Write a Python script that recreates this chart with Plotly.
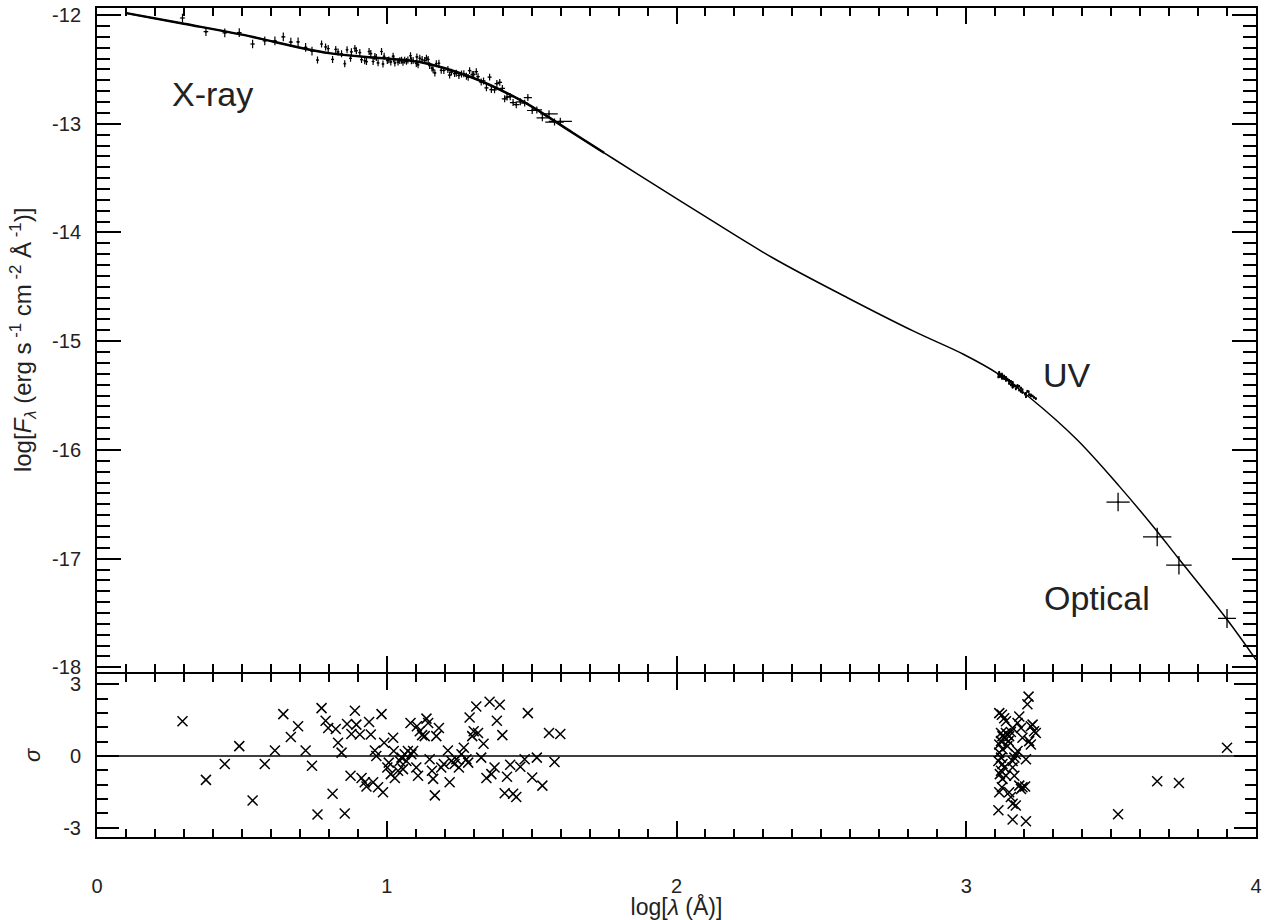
import plotly.graph_objects as go

# ---------------- data ----------------
# model curve knots  (log lambda, log F_lambda)
model_x = [0.097, 0.30, 0.50, 0.80, 1.00, 1.11, 1.29, 1.46, 1.53, 1.64, 1.75, 1.87,
           2.10, 2.33, 2.59, 2.82, 2.99, 3.11, 3.22, 3.38, 3.53, 3.65, 3.73, 3.90, 4.00]
model_y = [-11.98, -12.08, -12.18, -12.35, -12.40, -12.43, -12.57, -12.78, -12.89, -13.08, -13.267, -13.47,
           -13.855, -14.23, -14.60, -14.91, -15.12, -15.30, -15.52, -15.90, -16.34, -16.72, -16.99, -17.56, -17.93]

# X-ray spectrum
xray_x = [0.295, 0.376, 0.441, 0.491, 0.537, 0.579, 0.614, 0.643, 0.669, 0.694,
          0.720, 0.742, 0.761, 0.775, 0.789, 0.798, 0.824, 0.813, 0.832, 0.844,
          0.855, 0.863, 0.875, 0.878, 0.890, 0.895, 0.907, 0.913, 0.924, 0.930,
          0.939, 0.945, 0.953, 0.959, 0.964, 0.970, 0.982, 0.987, 0.991, 1.002,
          1.007, 1.014, 1.022, 1.024, 1.028, 1.039, 1.045, 1.051, 1.056, 1.062,
          1.068, 1.073, 1.082, 1.085, 1.091, 1.102, 1.108, 1.104, 1.114, 1.122,
          1.131, 1.137, 1.143, 1.148, 1.156, 1.166, 1.171, 1.180, 1.160, 1.188,
          1.197, 1.211, 1.217, 1.223, 1.234, 1.240, 1.249, 1.258, 1.266, 1.275,
          1.281, 1.286, 1.295, 1.300, 1.309, 1.315, 1.326, 1.334, 1.344, 1.355,
          1.361, 1.372, 1.380, 1.390, 1.399, 1.407, 1.415, 1.426, 1.436, 1.447,
          1.461, 1.476, 1.487, 1.502, 1.518, 1.537, 1.560, 1.579, 1.599]
xray_y = [-12.027, -12.153, -12.163, -12.161, -12.266, -12.237, -12.237, -12.200, -12.248, -12.247,
          -12.297, -12.331, -12.414, -12.266, -12.293, -12.308, -12.316, -12.408, -12.339, -12.356,
          -12.448, -12.319, -12.398, -12.338, -12.307, -12.328, -12.345, -12.410, -12.420, -12.428,
          -12.335, -12.354, -12.427, -12.382, -12.391, -12.439, -12.335, -12.450, -12.379, -12.418,
          -12.412, -12.431, -12.379, -12.400, -12.440, -12.433, -12.419, -12.416, -12.434, -12.415,
          -12.426, -12.413, -12.374, -12.421, -12.418, -12.445, -12.458, -12.385, -12.397, -12.409,
          -12.417, -12.396, -12.408, -12.465, -12.488, -12.532, -12.448, -12.443, -12.503, -12.508,
          -12.510, -12.501, -12.552, -12.525, -12.538, -12.536, -12.555, -12.543, -12.539, -12.563,
          -12.573, -12.511, -12.547, -12.546, -12.521, -12.567, -12.616, -12.606, -12.669, -12.571,
          -12.685, -12.688, -12.630, -12.619, -12.675, -12.770, -12.754, -12.751, -12.805, -12.824,
          -12.798, -12.810, -12.759, -12.878, -12.873, -12.945, -12.908, -12.984, -12.977]
xray_yerr = [0.040, 0.040, 0.040, 0.040, 0.040, 0.040, 0.040, 0.040, 0.040, 0.040,
             0.040, 0.040, 0.032, 0.032, 0.032, 0.032, 0.032, 0.032, 0.032, 0.032,
             0.032, 0.032, 0.032, 0.032, 0.032, 0.032, 0.032, 0.032, 0.032, 0.032,
             0.032, 0.032, 0.032, 0.032, 0.032, 0.032, 0.032, 0.032, 0.032, 0.032,
             0.032, 0.032, 0.032, 0.032, 0.032, 0.032, 0.032, 0.032, 0.032, 0.032,
             0.032, 0.032, 0.032, 0.032, 0.032, 0.032, 0.032, 0.032, 0.032, 0.032,
             0.032, 0.032, 0.032, 0.032, 0.032, 0.032, 0.032, 0.032, 0.032, 0.032,
             0.032, 0.032, 0.032, 0.032, 0.032, 0.032, 0.032, 0.032, 0.032, 0.032,
             0.032, 0.032, 0.032, 0.032, 0.032, 0.032, 0.032, 0.032, 0.032, 0.032,
             0.032, 0.032, 0.032, 0.032, 0.032, 0.032, 0.032, 0.032, 0.032, 0.032,
             0.032, 0.032, 0.032, 0.032, 0.032, 0.032, 0.032, 0.032, 0.032]
xray_xerr = [0.009, 0.008, 0.008, 0.008, 0.008, 0.007, 0.007, 0.007, 0.007, 0.006,
             0.006, 0.006, 0.005, 0.005, 0.005, 0.005, 0.005, 0.005, 0.005, 0.005,
             0.005, 0.005, 0.005, 0.005, 0.005, 0.005, 0.005, 0.005, 0.005, 0.005,
             0.005, 0.005, 0.005, 0.005, 0.005, 0.005, 0.005, 0.005, 0.005, 0.005,
             0.005, 0.005, 0.005, 0.005, 0.005, 0.005, 0.005, 0.005, 0.005, 0.005,
             0.005, 0.005, 0.005, 0.005, 0.005, 0.005, 0.005, 0.005, 0.005, 0.005,
             0.005, 0.005, 0.005, 0.005, 0.005, 0.005, 0.005, 0.005, 0.005, 0.005,
             0.006, 0.006, 0.006, 0.006, 0.006, 0.006, 0.006, 0.006, 0.006, 0.006,
             0.006, 0.006, 0.006, 0.006, 0.006, 0.006, 0.007, 0.007, 0.007, 0.007,
             0.007, 0.008, 0.008, 0.008, 0.009, 0.010, 0.010, 0.010, 0.011, 0.011,
             0.012, 0.012, 0.014, 0.018, 0.018, 0.020, 0.030, 0.032, 0.040]
xray_sigma = [1.45, -1.0, -0.34, 0.41, -1.86, -0.34, 0.23, 1.75, 0.79, 1.24,
              0.23, -0.41, -2.45, 2.0, 1.47, 1.17, 1.13, -1.58, 0.55, 0.14,
              -2.41, 1.34, -0.83, 0.92, 1.89, 1.31, 0.9, -0.92, -1.10, -1.28,
              1.42, 0.9, -1.1, 0.23, 0.0, -1.31, 1.75, -1.52, 0.55, -0.48,
              -0.28, -0.76, 0.76, 0.21, -0.92, -0.62, -0.21, -0.07, -0.55, 0.07,
              -0.21, 0.21, 1.38, 0.07, 0.21, -0.48, -0.83, 1.24, 1.03, 0.87,
              0.83, 1.56, 1.38, -0.14, -0.62, -1.65, 0.83, 1.17, -0.96, -0.48,
              -0.34, 0.23, -1.1, -0.21, -0.34, -0.14, -0.48, 0.07, 0.34, -0.14,
              -0.28, 1.61, 0.83, 1.03, 2.07, 0.96, -0.07, 0.51, -0.92, 2.27,
              -0.76, -0.48, 1.47, 2.14, 0.87, -1.56, -0.87, -0.37, -1.58, -1.72,
              -0.45, -0.14, 1.79, -0.9, -0.07, -1.24, 0.96, -0.25, 0.92]

# UV spectrum
uv_x = [3.114, 3.123, 3.131, 3.137, 3.120, 3.125, 3.131, 3.137, 3.142, 3.148,
        3.154, 3.146, 3.114, 3.120, 3.111, 3.125, 3.120, 3.131, 3.137, 3.125,
        3.114, 3.123, 3.148, 3.154, 3.160, 3.171, 3.111, 3.160, 3.206, 3.166,
        3.160, 3.171, 3.177, 3.166, 3.183, 3.194, 3.203, 3.189, 3.206, 3.223,
        3.217, 3.234, 3.229, 3.240, 3.189, 3.183, 3.177, 3.194, 3.211, 3.215,
        3.223, 3.160, 3.114, 3.125, 3.120, 3.142, 3.116, 3.160]
uv_y = [-15.286, -15.303, -15.320, -15.333, -15.306, -15.318, -15.330, -15.338, -15.348, -15.360,
        -15.369, -15.359, -15.305, -15.319, -15.305, -15.332, -15.325, -15.345, -15.360, -15.340,
        -15.325, -15.340, -15.388, -15.402, -15.416, -15.438, -15.329, -15.424, -15.510, -15.413,
        -15.395, -15.412, -15.421, -15.404, -15.450, -15.471, -15.487, -15.463, -15.479, -15.503,
        -15.491, -15.517, -15.504, -15.528, -15.432, -15.415, -15.407, -15.446, -15.460, -15.464,
        -15.494, -15.378, -15.301, -15.325, -15.311, -15.354, -15.320, -15.398]
uv_sigma = [1.79, 1.72, 1.58, 1.45, 0.96, 0.83, 0.76, 0.96, 0.90, 0.83,
            1.0, 0.62, 0.14, -0.07, -0.21, -0.34, -0.62, -0.48, -0.83, -0.96,
            -1.52, -1.31, -1.52, -1.72, -2.0, -2.07, -2.27, -2.66, -2.73, -0.83,
            -0.21, 0.07, 0.21, -0.07, -1.24, -1.31, -1.28, -1.38, -0.14, 0.48,
            0.62, 1.03, 1.31, 0.96, 1.17, 1.65, 1.38, 0.76, 2.16, 2.48,
            1.24, 1.17, 0.48, 0.28, 0.62, 0.41, -0.76, -0.48]
uv_yerr = 0.012
uv_xerr = 0.002

# Optical photometry
opt_x = [3.524, 3.659, 3.734, 3.900]
opt_y = [-16.48, -16.80, -17.06, -17.55]
opt_xerr = [0.040, 0.049, 0.044, 0.031]
opt_yerr = [0.085, 0.085, 0.085, 0.087]
opt_sigma = [-2.44, -1.06, -1.13, 0.34]

# axis ticks
x_ticks = [0, 1, 2, 3, 4]
x_ticktext = ["0", "1", "2", "3", "4"]
y_ticks = [-18, -17, -16, -15, -14, -13, -12]
y_ticktext = ["-18", "-17", "-16", "-15", "-14", "-13", "-12"]
s_ticks = [-3, 0, 3]
s_ticktext = ["-3", "0", "3"]

# band labels
band_labels = ["X-ray", "UV", "Optical"]
band_x = [0.252, 3.259, 3.262]
band_y = [-12.73, -15.31, -17.36]

# ---------------- figure ----------------
FONT = "Liberation Sans, Arial, Helvetica, sans-serif"
TXT = "#222222"
split = 0.1994          # fraction of plot height taken by the residual panel
gap = 2.0 / 829.0       # makes both boundary axis lines coincide

fig = go.Figure()

# model curve
fig.add_trace(go.Scatter(x=model_x, y=model_y, mode="lines",
                         line=dict(color="black", width=1.5, shape="spline", smoothing=1.0),
                         xaxis="x", yaxis="y", hoverinfo="skip"))
fig.add_trace(go.Scatter(x=model_x[:11], y=model_y[:11], mode="lines",
                         line=dict(color="black", width=2.5, shape="spline", smoothing=1.0),
                         xaxis="x", yaxis="y", hoverinfo="skip"))

def errpts(x, y, xe, ye, th):
    exd = dict(type="data", array=xe, width=0, thickness=th, color="black") if isinstance(xe, list) \
        else dict(type="constant", value=xe, width=0, thickness=th, color="black")
    eyd = dict(type="data", array=ye, width=0, thickness=th, color="black") if isinstance(ye, list) \
        else dict(type="constant", value=ye, width=0, thickness=th, color="black")
    return go.Scatter(x=x, y=y, mode="markers", marker=dict(size=2, color="black"),
                      error_x=exd, error_y=eyd, xaxis="x", yaxis="y")

fig.add_trace(errpts(xray_x, xray_y, xray_xerr, xray_yerr, 1.2))
fig.add_trace(errpts(uv_x, uv_y, uv_xerr, uv_yerr, 1.6))
fig.add_trace(errpts(opt_x, opt_y, opt_xerr, opt_yerr, 1.3))

# residuals
fig.add_trace(go.Scatter(x=xray_x + uv_x + opt_x, y=xray_sigma + uv_sigma + opt_sigma,
                         mode="markers",
                         marker=dict(symbol="x-thin", size=10, color="black",
                                     line=dict(color="black", width=1.5)),
                         xaxis="x2", yaxis="y2"))

axis_common = dict(showline=True, linecolor="black", linewidth=2, mirror="allticks",
                   ticks="inside", tickcolor="black", tickwidth=1.5, showgrid=False,
                   zeroline=False, tickfont=dict(family=FONT, size=20, color=TXT))

fig.update_layout(
    width=1275, height=920,
    margin=dict(l=97, r=19, t=8, b=83, autoexpand=False),
    paper_bgcolor="white", plot_bgcolor="white",
    showlegend=False,
    font=dict(family=FONT, size=20, color=TXT),
    xaxis=dict(range=[0, 4], domain=[0, 1], anchor="y", tickvals=x_ticks, ticktext=x_ticktext,
               showticklabels=False, ticklen=16,
               minor=dict(dtick=0.1, tick0=0, ticks="inside", ticklen=8, tickwidth=1.5,
                          tickcolor="black", showgrid=False),
               **axis_common),
    yaxis=dict(range=[-18.04, -11.935], domain=[split, 1], anchor="x", tickvals=y_ticks,
               ticktext=y_ticktext, ticklen=24, ticklabelstandoff=10,
               minor=dict(dtick=0.1, tick0=0, ticks="inside", ticklen=13, tickwidth=1.5,
                          tickcolor="black", showgrid=False),
               title=dict(text="log[<i>F</i><sub><i>λ</i></sub> (erg s<sup> -1</sup> cm<sup> -2</sup> Å<sup> -1</sup>)]",
                          font=dict(family=FONT, size=24, color=TXT), standoff=14),
               **axis_common),
    xaxis2=dict(range=[0, 4], domain=[0, 1], anchor="y2", tickvals=x_ticks, ticktext=x_ticktext,
                ticklen=16, ticklabelstandoff=30,
                minor=dict(dtick=0.1, tick0=0, ticks="inside", ticklen=8, tickwidth=1.5,
                           tickcolor="black", showgrid=False),
                title=dict(text="log[<i>λ</i> (Å)]", font=dict(family=FONT, size=23, color=TXT),
                           standoff=10),
                **axis_common),
    yaxis2=dict(range=[-3.39, 3.44], domain=[0, split - gap], anchor="x2", tickvals=s_ticks,
                ticktext=s_ticktext, ticklen=22, ticklabelstandoff=10,
                minor=dict(dtick=0.6, tick0=0, ticks="inside", ticklen=11, tickwidth=1.5,
                           tickcolor="black", showgrid=False),
                title=dict(text="<i>σ</i>", font=dict(family=FONT, size=22, color=TXT), standoff=16),
                **axis_common),
    shapes=[dict(type="line", xref="x2 domain", yref="y2", x0=0, x1=1, y0=0, y1=0,
                 line=dict(color="black", width=1.5))],
)

for t, bx, by in zip(band_labels, band_x, band_y):
    fig.add_annotation(x=bx, y=by, xref="x", yref="y", text=t, showarrow=False,
                       xanchor="left", yanchor="middle",
                       font=dict(family=FONT, size=34, color=TXT))

fig.write_html("out.html", include_plotlyjs=True, config={"displayModeBar": False},
               post_script="document.body.style.margin='0px';")
